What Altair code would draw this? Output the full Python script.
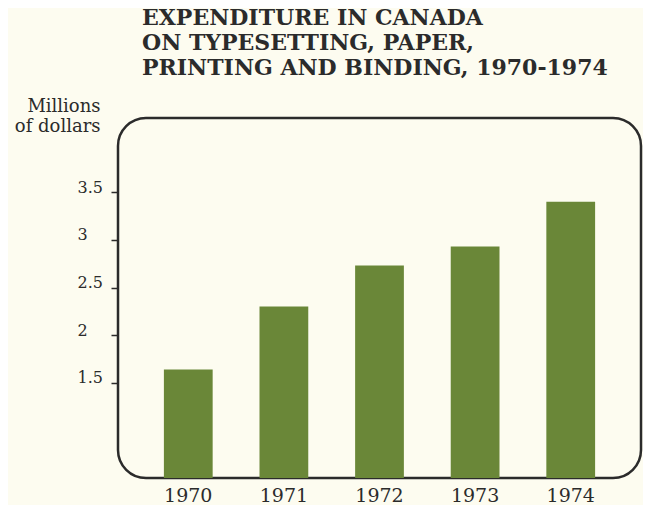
import altair as alt
import pandas as pd

years = ["1970", "1971", "1972", "1973", "1974"]
spending = [1.64, 2.30, 2.73, 2.93, 3.40]
y_ticks = [1.5, 2, 2.5, 3, 3.5]
title_lines = ["EXPENDITURE IN CANADA", "ON TYPESETTING, PAPER,", "PRINTING AND BINDING, 1970-1974"]
y_title = ["Millions", "of dollars"]

df = pd.DataFrame({"year": years, "value": spending})

BG = "#fdfcf0"
INK = "#2b2b2b"
SERIF = "DejaVu Serif"

bars = alt.Chart(df).mark_bar(color="#6a8738").encode(
    x=alt.X("year:N", sort=years,
            scale=alt.Scale(paddingInner=0.49, paddingOuter=0.48),
            axis=alt.Axis(title=None, labelAngle=0, ticks=False, tickSize=0, domain=False,
                          labelFont=SERIF, labelFontSize=19, labelColor=INK,
                          labelPadding=8, labelBaseline="top")),
    y=alt.Y("value:Q",
            scale=alt.Scale(domain=[0.5, 4.28], zero=False, nice=False),
            axis=alt.Axis(values=y_ticks, grid=False, domain=False,
                          labelExpr="datum.value % 1 == 0 ? format(datum.value, 'd') : format(datum.value, '.1f')",
                          tickSize=7, tickWidth=1.5, tickColor=INK,
                          labelFont=SERIF, labelFontSize=16, labelColor=INK,
                          labelAlign="left", labelBaseline="alphabetic", labelPadding=34,
                          title=y_title, titleAngle=0, titleAlign="right", titleBaseline="top",
                          titleFont=SERIF, titleFontSize=18, titleFontWeight="normal",
                          titleColor=INK, titleLineHeight=20, titleX=-18, titleY=-21)),
    y2=alt.datum(0.5),
)

title = alt.Chart(pd.DataFrame({"t": [0]})).mark_text(
    text=title_lines, font=SERIF, fontSize=22, fontWeight="bold", color=INK,
    lineHeight=25, align="left", baseline="top"
).encode(x=alt.value(24), y=alt.value(-110))

chart = alt.layer(bars, title).properties(
    width=523,
    height=360,
    background=BG,
    autosize=alt.AutoSizeParams(type="none"),
    padding={"left": 110, "top": 110, "right": 2, "bottom": 27},
).configure_view(
    stroke=INK, strokeWidth=2.5, cornerRadius=28, fill=BG
)

chart.save("out.html", embed_options={"renderer": "svg", "actions": False})
